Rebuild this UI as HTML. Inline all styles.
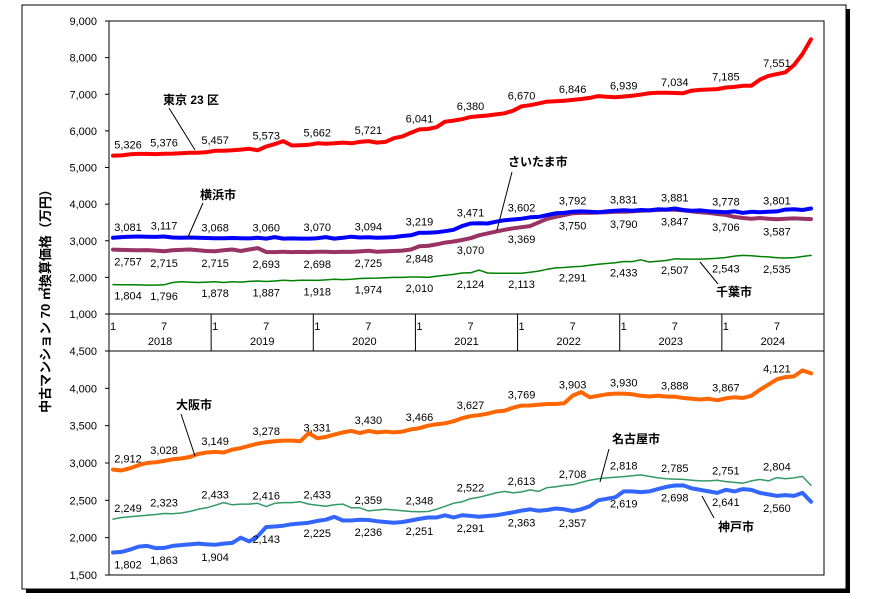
<!DOCTYPE html>
<html><head><meta charset="utf-8"><style>
html,body{margin:0;padding:0;background:#fff;}
svg{display:block;font-family:"Liberation Sans","Noto Sans CJK JP",sans-serif;}
</style></head><body>
<svg id="chart" width="878" height="599" viewBox="0 0 878 599" xmlns="http://www.w3.org/2000/svg">
<rect x="26" y="9" width="824" height="584" fill="#000"/>
<rect x="22" y="5" width="824" height="584" fill="#fff" stroke="#000" stroke-width="1"/>
<g id="grid"></g>
<g id="series"></g>
<g id="labels"></g>
<text transform="translate(50,298) rotate(-90)" text-anchor="middle" font-size="13" font-weight="bold">中古マンション 70 ㎡換算価格（万円）</text>
</svg>
<script>
const years = ['2018','2019','2020','2021','2022','2023','2024'];
const topTicks = [9000,8000,7000,6000,5000,4000,3000,2000,1000];
const botTicks = [4500,4000,3500,3000,2500,2000,1500];
const tokyo = [5326,5330,5360,5370,5370,5365,5376,5380,5390,5400,5400,5420,
5457,5460,5470,5490,5510,5470,5573,5640,5720,5600,5610,5620,
5662,5650,5660,5680,5660,5700,5721,5680,5700,5800,5850,5950,
6041,6050,6100,6250,6280,6320,6380,6400,6420,6450,6480,6550,
6670,6700,6750,6800,6810,6820,6846,6870,6900,6950,6930,6920,
6939,6960,6990,7030,7040,7040,7034,7030,7100,7120,7130,7140,
7185,7200,7230,7230,7400,7500,7551,7600,7800,8100,8500];
const yokohama = [3081,3100,3110,3117,3110,3105,3117,3090,3080,3090,3080,3075,
3068,3070,3075,3070,3065,3080,3060,3100,3060,3065,3060,3060,
3070,3100,3060,3080,3110,3090,3094,3080,3090,3100,3130,3150,
3219,3220,3230,3260,3300,3400,3471,3480,3470,3520,3560,3580,
3602,3640,3650,3700,3750,3760,3792,3800,3790,3780,3800,3820,
3831,3820,3840,3830,3860,3850,3881,3840,3820,3830,3800,3790,
3778,3800,3760,3790,3780,3790,3801,3850,3860,3840,3880];
const saitama = [2757,2750,2745,2740,2745,2730,2715,2740,2750,2760,2740,2720,
2715,2740,2760,2720,2760,2800,2693,2690,2700,2690,2695,2690,
2698,2700,2690,2700,2695,2710,2725,2700,2710,2720,2730,2760,
2848,2860,2900,2950,2980,3020,3070,3150,3200,3250,3300,3340,
3369,3400,3500,3600,3650,3700,3750,3760,3760,3770,3780,3790,
3790,3800,3820,3830,3840,3850,3847,3830,3800,3780,3760,3730,
3706,3650,3620,3600,3620,3600,3587,3600,3610,3600,3590];
const chiba = [1804,1800,1800,1795,1790,1790,1796,1860,1880,1870,1860,1870,
1878,1860,1880,1870,1890,1900,1887,1900,1920,1910,1920,1920,
1918,1930,1950,1940,1950,1970,1974,1980,1990,2000,2000,2010,
2010,2000,2030,2060,2080,2120,2124,2200,2120,2110,2110,2110,
2113,2140,2170,2220,2260,2270,2291,2300,2330,2360,2380,2400,
2433,2430,2480,2420,2440,2460,2507,2500,2500,2500,2510,2520,
2543,2580,2600,2590,2570,2560,2535,2530,2540,2570,2600];
const osaka = [2912,2900,2930,2970,3000,3010,3028,3050,3060,3080,3120,3140,
3149,3140,3180,3200,3230,3260,3278,3290,3300,3300,3290,3400,
3331,3350,3380,3410,3430,3400,3430,3410,3420,3410,3420,3450,
3466,3500,3520,3530,3560,3600,3627,3640,3660,3690,3700,3740,
3769,3770,3780,3790,3790,3800,3903,3950,3880,3900,3920,3930,
3930,3920,3900,3890,3900,3890,3888,3870,3860,3850,3860,3840,
3867,3880,3870,3900,3980,4050,4121,4150,4160,4240,4200];
const nagoya = [2249,2270,2280,2290,2300,2310,2323,2320,2330,2350,2380,2400,
2433,2470,2440,2450,2450,2460,2416,2460,2470,2470,2480,2450,
2433,2420,2440,2450,2400,2400,2359,2370,2380,2370,2360,2350,
2348,2350,2380,2420,2460,2480,2522,2540,2570,2600,2620,2600,
2613,2640,2620,2670,2680,2700,2708,2740,2770,2790,2800,2810,
2818,2830,2840,2820,2800,2790,2785,2780,2770,2760,2760,2770,
2751,2740,2730,2760,2780,2760,2804,2790,2800,2820,2700];
const kobe = [1802,1810,1840,1880,1890,1860,1863,1890,1900,1910,1920,1910,
1904,1920,1930,2000,1950,2020,2143,2150,2160,2180,2190,2200,
2225,2240,2280,2230,2230,2240,2236,2220,2210,2200,2210,2230,
2251,2270,2270,2300,2270,2300,2291,2280,2290,2300,2320,2340,
2363,2380,2360,2370,2390,2380,2357,2380,2420,2500,2520,2540,
2619,2620,2610,2620,2650,2680,2698,2700,2660,2640,2620,2600,
2641,2620,2650,2640,2600,2580,2560,2570,2560,2600,2480];

const NS='http://www.w3.org/2000/svg';
const L=109,R=824,T1=21,B1=314,T2=351,B2=575;
const xM = i => L + 4 + i*(R-L)/84;
const yTop = v => T1 + (9000-v)*(B1-T1)/8000;
const yBot = v => T2 + (4500-v)*(B2-T2)/3000;
function mk(tag, attrs, parent, txt){const e=document.createElementNS(NS,tag);for(const k in attrs)e.setAttribute(k,attrs[k]);if(txt!==undefined)e.textContent=txt;parent.appendChild(e);return e;}
const grid=document.getElementById('grid'), ser=document.getElementById('series'), lab=document.getElementById('labels');

// panels
let p=mk('rect',{x:L,y:T1,width:R-L,height:B1-T1,fill:'none',stroke:'#000','stroke-width':1},grid);


p=mk('rect',{x:L,y:T2,width:R-L,height:B2-T2,fill:'none',stroke:'#000','stroke-width':1},grid);


p=mk('line',{x1:L,y1:B1,x2:L,y2:T2,stroke:'#000'},grid);


topTicks.forEach(v=>{
  const y=yTop(v);
  const t=mk('line',{x1:L-4,y1:y,x2:L,y2:y,stroke:'#000'},grid);
  
  
  const tx=mk('text',{x:L-12,y:y+4,'text-anchor':'end','font-size':11},grid,v.toLocaleString('en-US'));
  
  
});
botTicks.forEach(v=>{
  const y=yBot(v);
  const t=mk('line',{x1:L-4,y1:y,x2:L,y2:y,stroke:'#000'},grid);
  
  
  const tx=mk('text',{x:L-12,y:y+4,'text-anchor':'end','font-size':11},grid,v.toLocaleString('en-US'));
  
  
});
years.forEach((yr,k)=>{
  const x0=L+k*(R-L)/7;
  const s=mk('line',{x1:x0+(R-L)/7,y1:B1,x2:x0+(R-L)/7,y2:T2,stroke:'#000'},grid);
  
  
  const a=mk('text',{x:x0+4,y:B1+16,'text-anchor':'middle','font-size':11},grid,'1');
  
  
  const b=mk('text',{x:x0+4+6*(R-L)/84,y:B1+16,'text-anchor':'middle','font-size':11},grid,'7');
  
  
  const c=mk('text',{x:x0+(R-L)/14,y:B1+31,'text-anchor':'middle','font-size':11},grid,yr);
  
  
});

function series(name, data, yf, color, w, lblOff){
  const d=data.map((v,i)=>(i?'L':'M')+xM(i).toFixed(1)+','+yf(v).toFixed(1)).join('');
  const pl=mk('path',{d:d,fill:'none',stroke:color,'stroke-width':w,'stroke-linejoin':'round','stroke-linecap':'round'},ser);
  
  
  for(let i=0;i<data.length;i+=6){
    const x=xM(i)+(i===0?15:0);
    const t=mk('text',{x:x,y:yf(data[i])+lblOff,'text-anchor':'middle','font-size':11},lab,data[i].toLocaleString('en-US'));
    
    
  }
}
series('chiba',chiba,yTop,'#008000',1.5,15);
series('saitama',saitama,yTop,'#993366',4,16);
series('yokohama',yokohama,yTop,'#0000ff',4,-7);
series('tokyo',tokyo,yTop,'#ff0000',4,-7);
series('nagoya',nagoya,yBot,'#339966',1.5,-7);
series('kobe',kobe,yBot,'#3366ff',4,16);
series('osaka',osaka,yBot,'#ff6600',4,-7);

function callout(name,text,tx,ty,x1,y1,x2,y2){
  const l=mk('line',{x1:x1,y1:y1,x2:x2,y2:y2,stroke:'#000','stroke-width':1},lab);
  
  
  const t=mk('text',{x:tx,y:ty,'font-size':12,'font-weight':'bold'},lab,text);
  
  
}
callout('tokyo','東京 23 区',163,104,169,108,195,150);
callout('yokohama','横浜市',200,199,203,203,188,237);
callout('saitama','さいたま市',508,166,512,172,497,230);
callout('chiba','千葉市',716,296,700,262,718,284);
callout('osaka','大阪市',176,409,181,414,195,456);
callout('nagoya','名古屋市',612,443,609,449,600,482);
callout('kobe','神戸市',718,531,702,496,714,518);
</script>
</body></html>
